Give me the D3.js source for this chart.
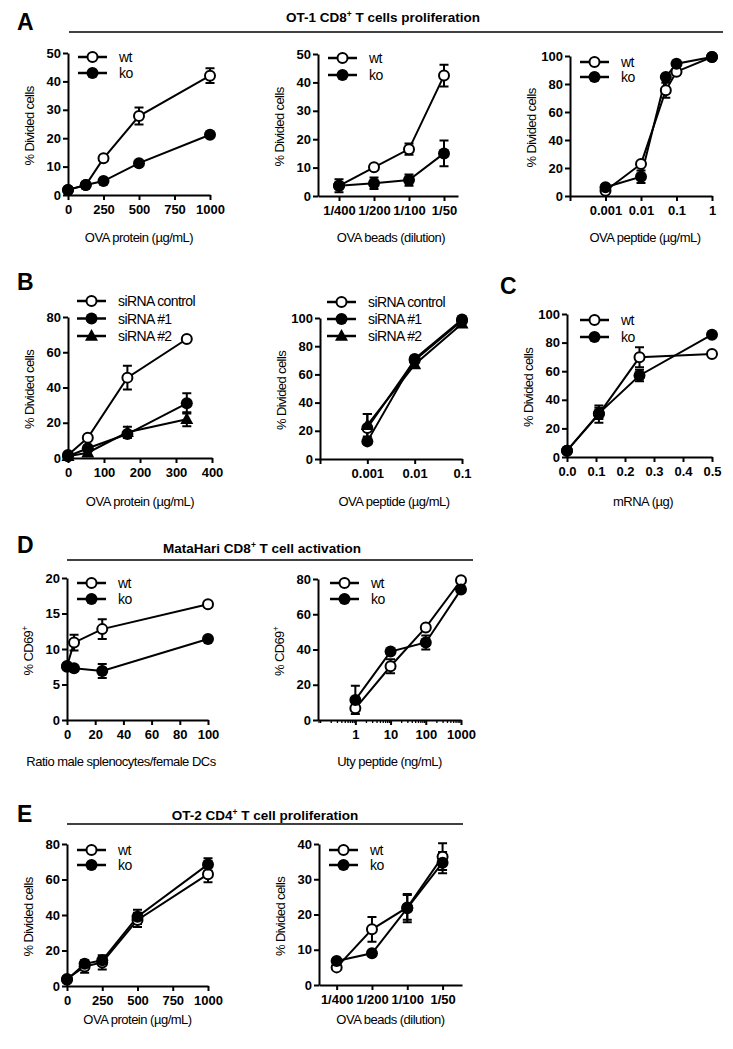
<!DOCTYPE html>
<html><head><meta charset="utf-8">
<script src="https://cdn.jsdelivr.net/npm/d3@7/dist/d3.min.js"></script>
<style>
body{margin:0;background:#fff;}
svg{display:block;font-family:"Liberation Sans",Arial,Helvetica,sans-serif;}
</style></head><body>
<svg id="c" width="733" height="1049"></svg>
<script>
// ---------------- DATA ----------------
// Panel A1: OVA protein
const a1X = [0, 125, 250, 500, 1000];
const a1Wt = [1.8, 3.5, 12.9, 27.8, 42.0];
const a1WtErr = [0.5, 0.5, 0.8, 3.0, 2.6];
const a1Ko = [1.8, 3.5, 4.9, 11.2, 21.2];
const a1KoErr = [0.5, 0.5, 0.5, 0.8, 0.8];
const a1XTicks = [0, 250, 500, 750, 1000];
const a1YTicks = [0, 10, 20, 30, 40, 50];
// Panel A2: OVA beads
const beadCats = ["1/400", "1/200", "1/100", "1/50"];
const a2Wt = [3.6, 10.1, 16.5, 42.4];
const a2WtErr = [1.5, 1.9, 2.0, 3.8];
const a2Ko = [3.6, 4.5, 5.6, 15.0];
const a2KoErr = [2.3, 2.0, 2.0, 4.5];
// Panel A3: OVA peptide
const a3X = [0.001, 0.01, 0.05, 0.1, 1];
const a3Wt = [3.8, 22.9, 75.5, 88.8, 99.3];
const a3WtErr = [1, 2, 5.4, 2, 0.5];
const a3Ko = [6.2, 13.8, 85.0, 94.5, 99.3];
const a3KoErr = [1, 4.5, 3, 1.5, 0.5];
const a3XTicks = [1e-4, 1e-3, 1e-2, 1e-1, 1];
const a3XTickLabels = ["", "0.001", "0.01", "0.1", "1"];
const pctYTicks100 = [0, 20, 40, 60, 80, 100];
// Panel B1: siRNA OVA protein
const b1X = [0, 55, 165, 330];
const b1Ctrl = [1.7, 11.5, 45.6, 67.5];
const b1CtrlErr = [0.5, 1, 6.8, 1];
const b1Si1 = [1, 5.5, 13.6, 31];
const b1Si1Err = [0.5, 1, 2, 5.7];
const b1Si2 = [1, 3, 14.6, 22];
const b1Si2Err = [0.5, 1, 3.2, 4];
const b1XTicks = [0, 100, 200, 300, 400];
const yTicks80 = [0, 20, 40, 60, 80];
// Panel B2: siRNA OVA peptide
const b2X = [0.001, 0.01, 0.1];
const b2Ctrl = [22, 70, 98];
const b2CtrlErr = [10, 3, 1];
const b2Si1 = [12.5, 71, 99];
const b2Si1Err = [2, 3, 1];
const b2Si2 = [24, 67, 96];
const b2Si2Err = [8, 3, 1];
const b2XTicks = [1e-4, 1e-3, 1e-2, 1e-1];
const b2XTickLabels = ["", "0.001", "0.01", "0.1"];
const siLabels = ["siRNA control", "siRNA #1", "siRNA #2"];
// Panel C: mRNA
const cX = [0, 0.11, 0.25, 0.5];
const cWt = [4.4, 30, 69.7, 72];
const cWtErr = [1, 6, 7, 1];
const cKo = [4.4, 30.5, 57, 85.5];
const cKoErr = [1, 4, 4, 1];
const cXTicks = [0, 0.1, 0.2, 0.3, 0.4, 0.5];
// Panel D1: ratio
const d1X = [0, 5, 25, 100];
const d1Wt = [7.6, 10.9, 12.8, 16.3];
const d1WtErr = [0.4, 1.1, 1.4, 0.5];
const d1Ko = [7.5, 7.3, 6.9, 11.4];
const d1KoErr = [0.4, 0.3, 1.0, 0.3];
const d1XTicks = [0, 20, 40, 60, 80, 100];
const d1YTicks = [0, 5, 10, 15, 20];
// Panel D2: Uty peptide
const d2X = [1, 10, 100, 1000];
const d2Wt = [6.6, 30.5, 52.5, 79.3];
const d2WtErr = [3, 4, 1.5, 1];
const d2Ko = [11.4, 38.8, 44, 74];
const d2KoErr = [8, 2, 4, 1.5];
const d2XTicks = [1, 10, 100, 1000];
// Panel E1: OT-2 OVA protein
const e1X = [0, 125, 250, 500, 1000];
const e1Wt = [4, 11, 13.3, 37.2, 63];
const e1WtErr = [1, 3.5, 4, 4, 4.5];
const e1Ko = [3.5, 12.5, 14.5, 39, 68.5];
const e1KoErr = [1, 3, 3, 4, 3.5];
// Panel E2: OT-2 OVA beads
const e2Wt = [5, 15.8, 22, 36.4];
const e2WtErr = [1, 3.5, 3.5, 3.8];
const e2Ko = [6.8, 9, 21.8, 34.7];
const e2KoErr = [1.5, 0.8, 4, 3];
const e2YTicks = [0, 10, 20, 30, 40];
const wtKoLabels = ["wt", "ko"];

// ---------------- DRAWING ----------------
const svg = d3.select("#c");
const FONT = '"Liberation Sans",Arial,Helvetica,sans-serif';
const R = 6;

function marker(g, type, cx, cy) {
  if (type === "tri") {
    g.append("path").attr("d", `M${cx},${cy-7}L${cx+6.5},${cy+4.8}L${cx-6.5},${cy+4.8}Z`).attr("fill", "#000");
  } else {
    g.append("circle").attr("cx", cx).attr("cy", cy).attr("r", type === "open" ? R - 1 : R)
      .attr("fill", type === "open" ? "#fff" : "#000")
      .attr("stroke", "#000").attr("stroke-width", type === "open" ? 2 : 0);
  }
}

function styleAxis(gx) {
  gx.attr("font-family", FONT).attr("font-size", 13).attr("font-weight", "bold");
  gx.select(".domain").attr("stroke", "#000").attr("stroke-width", 2);
  gx.selectAll(".tick line").attr("stroke", "#000").attr("stroke-width", 2);
  gx.selectAll(".tick text").attr("fill", "#000");
}

function drawPlot(cfg) {
  const g = svg.append("g");
  const x = cfg.x;
  const y = d3.scaleLinear().domain(cfg.yDomain).range(cfg.yRange);
  const xr = x.range();
  // x axis
  const ax = d3.axisBottom(x).tickValues(cfg.xTicks).tickFormat(cfg.xFormat)
    .tickSize(5).tickSizeOuter(0).tickPadding(5);
  const gx = g.append("g").attr("transform", `translate(0,${cfg.yRange[0]})`).call(ax);
  styleAxis(gx);
  if (cfg.minorTicks) {
    const am = d3.axisBottom(x).tickValues(cfg.minorTicks).tickFormat("").tickSize(3).tickSizeOuter(0);
    const gm = g.append("g").attr("transform", `translate(0,${cfg.yRange[0]})`).call(am);
    gm.select(".domain").remove();
    gm.selectAll(".tick line").attr("stroke", "#000").attr("stroke-width", 1.3);
  }
  // y axis
  const ay = d3.axisLeft(y).tickValues(cfg.yTicks).tickFormat(d3.format("d"))
    .tickSize(5).tickSizeOuter(0).tickPadding(2);
  const gy = g.append("g").attr("transform", `translate(${xr[0]},0)`).call(ay);
  styleAxis(gy);
  // titles
  const yc = (cfg.yRange[0] + cfg.yRange[1]) / 2 + 2;
  const yt = g.append("text").attr("transform", `translate(${xr[0] - 39},${yc}) rotate(-90)`)
    .attr("text-anchor", "middle").attr("dy", "0.35em")
    .attr("font-family", FONT).attr("font-size", 13).attr("letter-spacing", -0.6).attr("fill", "#000");
  yt.append("tspan").text(cfg.yTitle);
  if (cfg.yTitleSup) yt.append("tspan").attr("dy", -5).attr("font-size", 8.5).text(cfg.yTitleSup);
  g.append("text").attr("x", cfg.xTitleX != null ? cfg.xTitleX : (xr[0] + xr[1]) / 2)
    .attr("y", cfg.xTitleY).attr("text-anchor", "middle")
    .attr("font-family", FONT).attr("font-size", 13).attr("letter-spacing", -0.5).attr("fill", "#000")
    .text(cfg.xTitle);
  // lines
  const line = d3.line().x(d => x(d[0])).y(d => y(d[1]));
  cfg.series.forEach(s => {
    g.append("path").datum(s.x.map((v, i) => [v, s.y[i]])).attr("d", line)
      .attr("fill", "none").attr("stroke", "#000").attr("stroke-width", 2);
  });
  // error bars and markers
  cfg.series.forEach(s => {
    s.x.forEach((v, i) => {
      const e = s.err[i];
      const cx = x(v), y1 = y(s.y[i] + e), y0 = y(s.y[i] - e);
      if (Math.abs(y0 - y1) / 2 > R - 0.5) {
        g.append("path").attr("d", `M${cx},${y1}V${y0}M${cx-4.5},${y1}H${cx+4.5}M${cx-4.5},${y0}H${cx+4.5}`)
          .attr("stroke", "#000").attr("stroke-width", 2).attr("fill", "none");
      }
    });
  });
  cfg.series.forEach(s => {
    s.x.forEach((v, i) => marker(g, s.m, x(v), y(s.y[i])));
  });
  // legend
  const L = cfg.legend;
  cfg.series.forEach((s, i) => {
    const ly = L.y + i * L.dy;
    g.append("line").attr("x1", L.x).attr("x2", L.x + 29).attr("y1", ly).attr("y2", ly)
      .attr("stroke", "#000").attr("stroke-width", 2.5);
    marker(g, s.m, L.x + 14.5, ly);
    g.append("text").attr("x", L.x + 41).attr("y", ly + 5)
      .attr("font-family", FONT).attr("font-size", 14).attr("letter-spacing", -0.6).attr("fill", "#000")
      .text(L.labels[i]);
  });
}

function wtko(xv, wt, wtE, ko, koE) {
  return [{x: xv, y: wt, err: wtE, m: "open"}, {x: xv, y: ko, err: koE, m: "filled"}];
}
const idx = [0, 1, 2, 3];
const catFmt = i => beadCats[i];
const logFmt = (labels, ticks) => d => labels[ticks.indexOf(d)];
const divided = "% Divided cells";

// Panel A
drawPlot({x: d3.scaleLinear().domain([0, 1000]).range([68, 210]), xTicks: a1XTicks, xFormat: d3.format("d"),
  yDomain: [0, 50], yRange: [195, 53], yTicks: a1YTicks, yTitle: divided,
  xTitle: "OVA protein (µg/mL)", xTitleY: 242,
  series: wtko(a1X, a1Wt, a1WtErr, a1Ko, a1KoErr), legend: {x: 78, y: 57, dy: 16, labels: wtKoLabels}});
drawPlot({x: d3.scaleLinear().domain([-0.6, 3.4]).range([318, 458]), xTicks: idx, xFormat: catFmt,
  yDomain: [0, 50], yRange: [196, 54], yTicks: a1YTicks, yTitle: divided,
  xTitle: "OVA beads (dilution)", xTitleY: 242, xTitleX: 391,
  series: wtko(idx, a2Wt, a2WtErr, a2Ko, a2KoErr), legend: {x: 328, y: 58, dy: 17, labels: wtKoLabels}});
drawPlot({x: d3.scaleLog().domain([1e-4, 1]).range([570, 712]), xTicks: a3XTicks, xFormat: logFmt(a3XTickLabels, a3XTicks),
  yDomain: [0, 100], yRange: [196, 56], yTicks: pctYTicks100, yTitle: divided,
  xTitle: "OVA peptide (µg/mL)", xTitleY: 242, xTitleX: 645,
  series: wtko(a3X, a3Wt, a3WtErr, a3Ko, a3KoErr), legend: {x: 580, y: 62, dy: 15, labels: wtKoLabels}});

// Panel B
drawPlot({x: d3.scaleLinear().domain([0, 400]).range([68, 212]), xTicks: b1XTicks, xFormat: d3.format("d"),
  yDomain: [0, 80], yRange: [458, 317], yTicks: yTicks80, yTitle: divided,
  xTitle: "OVA protein (µg/mL)", xTitleY: 506,
  series: [{x: b1X, y: b1Ctrl, err: b1CtrlErr, m: "open"}, {x: b1X, y: b1Si1, err: b1Si1Err, m: "filled"}, {x: b1X, y: b1Si2, err: b1Si2Err, m: "tri"}],
  legend: {x: 77, y: 301, dy: 17.5, labels: siLabels}});
drawPlot({x: d3.scaleLog().domain([1e-4, 0.1]).range([320, 462]), xTicks: b2XTicks, xFormat: logFmt(b2XTickLabels, b2XTicks),
  yDomain: [0, 100], yRange: [459, 318], yTicks: pctYTicks100, yTitle: divided,
  xTitle: "OVA peptide (µg/mL)", xTitleY: 506, xTitleX: 394,
  series: [{x: b2X, y: b2Ctrl, err: b2CtrlErr, m: "open"}, {x: b2X, y: b2Si1, err: b2Si1Err, m: "filled"}, {x: b2X, y: b2Si2, err: b2Si2Err, m: "tri"}],
  legend: {x: 327, y: 302, dy: 17, labels: siLabels}});
drawPlot({x: d3.scaleLinear().domain([0, 0.5]).range([567, 712]), xTicks: cXTicks, xFormat: d3.format(".1f"),
  yDomain: [0, 100], yRange: [457, 314], yTicks: pctYTicks100, yTitle: divided,
  xTitle: "mRNA (µg)", xTitleY: 506, xTitleX: 643,
  series: wtko(cX, cWt, cWtErr, cKo, cKoErr), legend: {x: 580, y: 320, dy: 17, labels: wtKoLabels}});

// Panel D
drawPlot({x: d3.scaleLinear().domain([0, 100]).range([67, 208]), xTicks: d1XTicks, xFormat: d3.format("d"),
  yDomain: [0, 20], yRange: [720, 578], yTicks: d1YTicks, yTitle: "% CD69", yTitleSup: "+",
  xTitle: "Ratio male splenocytes/female DCs", xTitleY: 766, xTitleX: 121,
  series: wtko(d1X, d1Wt, d1WtErr, d1Ko, d1KoErr), legend: {x: 77, y: 583, dy: 16, labels: wtKoLabels}});
const d2Scale = d3.scaleLog().domain([0.087, 1000]).range([318, 461]);
drawPlot({x: d2Scale, xTicks: d2XTicks, xFormat: d3.format("d"),
  minorTicks: d2Scale.ticks().filter(t => d2XTicks.indexOf(t) < 0),
  yDomain: [0, 80], yRange: [720, 579], yTicks: yTicks80, yTitle: "% CD69", yTitleSup: "+",
  xTitle: "Uty peptide (ng/mL)", xTitleY: 766,
  series: wtko(d2X, d2Wt, d2WtErr, d2Ko, d2KoErr), legend: {x: 330, y: 583, dy: 16, labels: wtKoLabels}});

// Panel E
drawPlot({x: d3.scaleLinear().domain([0, 1000]).range([67, 208]), xTicks: a1XTicks, xFormat: d3.format("d"),
  yDomain: [0, 80], yRange: [986, 844], yTicks: yTicks80, yTitle: divided,
  xTitle: "OVA protein (µg/mL)", xTitleY: 1024,
  series: wtko(e1X, e1Wt, e1WtErr, e1Ko, e1KoErr), legend: {x: 77, y: 850, dy: 15, labels: wtKoLabels}});
drawPlot({x: d3.scaleLinear().domain([-0.5, 3.55]).range([319, 462]), xTicks: idx, xFormat: catFmt,
  yDomain: [0, 40], yRange: [985, 844], yTicks: e2YTicks, yTitle: divided,
  xTitle: "OVA beads (dilution)", xTitleY: 1024,
  series: wtko(idx, e2Wt, e2WtErr, e2Ko, e2KoErr), legend: {x: 329, y: 850, dy: 15, labels: wtKoLabels}});

// Panel letters and section titles
[["A", 17, 30], ["B", 17, 290], ["C", 500, 294], ["D", 17, 553], ["E", 17, 822]].forEach(([t, lx, ly]) => {
  svg.append("text").attr("x", lx).attr("y", ly).attr("font-family", FONT).attr("font-size", 23)
    .attr("font-weight", "bold").attr("fill", "#000").text(t);
});
function sectionTitle(cx, by, pre, post, x1, x2, ly) {
  const t = svg.append("text").attr("x", cx).attr("y", by).attr("text-anchor", "middle")
    .attr("font-family", FONT).attr("font-size", 13.5).attr("font-weight", "bold").attr("fill", "#000");
  t.append("tspan").text(pre);
  t.append("tspan").attr("dy", -5).attr("font-size", 8.5).text("+");
  t.append("tspan").attr("dy", 5).text(post);
  svg.append("line").attr("x1", x1).attr("x2", x2).attr("y1", ly).attr("y2", ly)
    .attr("stroke", "#000").attr("stroke-width", 1.5);
}
sectionTitle(383, 22, "OT-1 CD8", " T cells proliferation", 69, 723, 32);
sectionTitle(262, 553, "MataHari CD8", " T cell activation", 67, 473, 560);
sectionTitle(265, 820, "OT-2 CD4", " T cell proliferation", 67, 463, 824);
</script>
</body></html>
